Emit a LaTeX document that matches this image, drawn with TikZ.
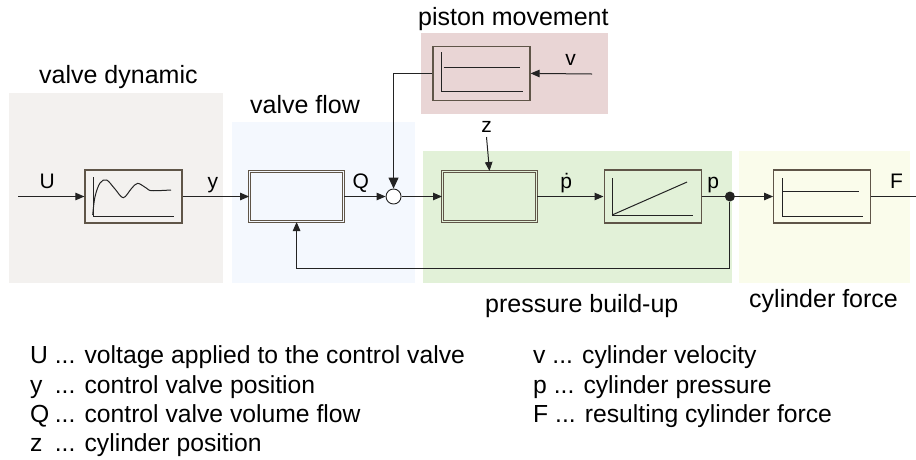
\documentclass[tikz,border=0pt]{standalone}
\usepackage{fontspec}
\setmainfont{Liberation Sans}
\usepackage{xcolor}
\usepackage{tikz}
\usetikzlibrary{positioning, arrows.meta}
\definecolor{bggray}{RGB}{243,241,239}
\definecolor{bgblue}{RGB}{244,248,254}
\definecolor{bgpink}{RGB}{233,213,213}
\definecolor{bggreen}{RGB}{226,241,216}
\definecolor{bgyellow}{RGB}{250,252,235}
\definecolor{blkline}{RGB}{95,85,72}
\definecolor{sigline}{RGB}{35,35,35}

\begin{document}
\begin{tikzpicture}[x=1pt, y=-1pt,
  blk/.style={draw=blkline, line width=1.2pt, minimum width=97pt, minimum height=53pt, inner sep=0},
  dblk/.style={draw=blkline, line width=1pt, double distance=1.6pt, minimum width=94pt, minimum height=50pt, inner sep=0},
  sumpt/.style={circle, draw=sigline, fill=white, line width=0.9pt, minimum size=15pt, inner sep=0},
  tappt/.style={circle, fill=sigline, minimum size=10pt, inner sep=0},
  arr/.style={-{Triangle[length=9pt,width=7.5pt]}, line width=1pt, color=sigline},
  sig/.style={line width=1pt, color=sigline},
  grf/.style={line width=1pt, color=sigline},
  sym/.style={font=\fontsize{21}{25}\selectfont, anchor=base, inner sep=0, text=black},
  symlbl/.style={sym, yshift=8.5pt},
  grp/.style={font=\fontsize{25}{30}\selectfont, anchor=base west, inner sep=0},
  leg/.style={font=\fontsize{24.7}{29}\selectfont, anchor=base west, inner sep=0}]
  \useasboundingbox (0,0) rectangle (916,459);
  % coloured regions
  \fill[bggray] (9,93) rectangle (223,283);
  \fill[bgblue] (232,122) rectangle (415,283);
  \fill[bgpink] (421,33) rectangle (608,114);
  \fill[bggreen] (423,151) rectangle (732,283);
  \fill[bgyellow] (739,151) rectangle (910,283);
  \node[grp] (tvd) at (39,83) {valve dynamic};
  \node[grp] (tvf) at (250,113) {valve flow};
  \node[grp] (tpm) at (418,25) {piston movement};
  \node[grp] (tpb) at (485,312) {pressure build-up};
  \node[grp] (tcf) at (749,307) {cylinder force};
  % blocks
  \node[blk] (vd) at (133.5,196.5) {};
  \node[dblk, double=bgblue, right=66.5pt of vd] (vf) {};
  \node[sumpt, right=41.5pt of vf] (sum) {};
  \node[dblk, double=bggreen, right=40.5pt of sum] (pb) {};
  \node[blk, right=66.5pt of pb] (pr) {};
  \node[tappt, right=23pt of pr] (tap) {};
  \node[blk, right=38pt of tap] (cf) {};
  \node[blk, minimum height=54pt, above=70pt of pb, xshift=-8pt] (pm) {};
  \coordinate (uin) at (18,196.5);
  \coordinate (fout) at (916,196.5);
  \coordinate (vin) at (592,74);
  \coordinate (zin) at (486.5,137);
  \coordinate (fb) at (tap |- 0,268);
  % connectors
  \draw[arr] (uin) -- node[symlbl, xshift=-4pt]{U} (vd);
  \draw[arr] (vd) -- node[symlbl, xshift=-3pt]{y} (vf);
  \draw[arr] (vf) -- node[symlbl, xshift=-4pt]{Q} (sum);
  \draw[arr] (sum) -- (pb);
  \draw[arr] (pb) -- node[symlbl, xshift=-4pt]{\.{p}} (pr);
  \draw[sig] (pr) -- node[symlbl]{p} (tap);
  \draw[arr] (tap) -- (cf);
  \draw[sig] (cf) -- node[symlbl, xshift=3pt]{F} (fout);
  \draw[arr] (tap) -- (fb) -| (vf.south);
  \draw[-{Triangle[length=11pt,width=10pt]}, line width=1pt, color=sigline] (pm.west) -| (sum.north);
  \draw[arr] (vin) -- node[symlbl, pos=.35]{v} (pm.east);
  \draw[arr] (zin) -- (pb.north);
  \node[sym] (zl) at (486.5,132) {z};
  % block contents
  \draw[grf, shift={(vd.center)}] (-40.5,-19.5) -- (-40.5,19.5) -- (40.5,19.5);
  \draw[grf, shift={(vd.center)}] plot[smooth, tension=0.55] coordinates {(-40.8,18.5) (-38.5,0.2) (-33.5,-13.5) (-26.8,-16.5) (-18.5,-7.5) (-10.2,1.2) (-2,-8) (4.2,-13.2) (13.2,-8.2) (18.2,-5.8) (37.5,-6.5)};
  \draw[grf, shift={(pr.center)}] (-40.5,-18.5) -- (-40.5,18.5) -- (40.5,18.5);
  \draw[grf, shift={(pr.center)}] (-40.5,18.5) -- (34.5,-14.5);
  \draw[grf, shift={(cf.center)}] (-40,-18.5) -- (-40,19.5) -- (41,19.5);
  \draw[grf, shift={(cf.center)}] (-40,-5.5) -- (37,-5.5);
  \draw[grf, shift={(pm.center)}] (-40.5,-21) -- (-40.5,18) -- (41.5,18);
  \draw[grf, shift={(pm.center)}] (-38,-6) -- (38.5,-6);
  % legend
  \node[leg] (l1) at (30,363) {\makebox[0.72em][l]{U} ... voltage applied to the control valve};
  \node[leg] (l2) at (30,393) {\makebox[0.72em][l]{y} ... control valve position};
  \node[leg] (l3) at (30,422) {\makebox[0.72em][l]{Q} ... control valve volume flow};
  \node[leg] (l4) at (30,451) {\makebox[0.72em][l]{z} ... cylinder position};
  \node[leg] (l5) at (533,363) {v ... cylinder velocity};
  \node[leg] (l6) at (533,393) {p ... cylinder pressure};
  \node[leg] (l7) at (533,422) {F ... resulting cylinder force};
\end{tikzpicture}
\end{document}
